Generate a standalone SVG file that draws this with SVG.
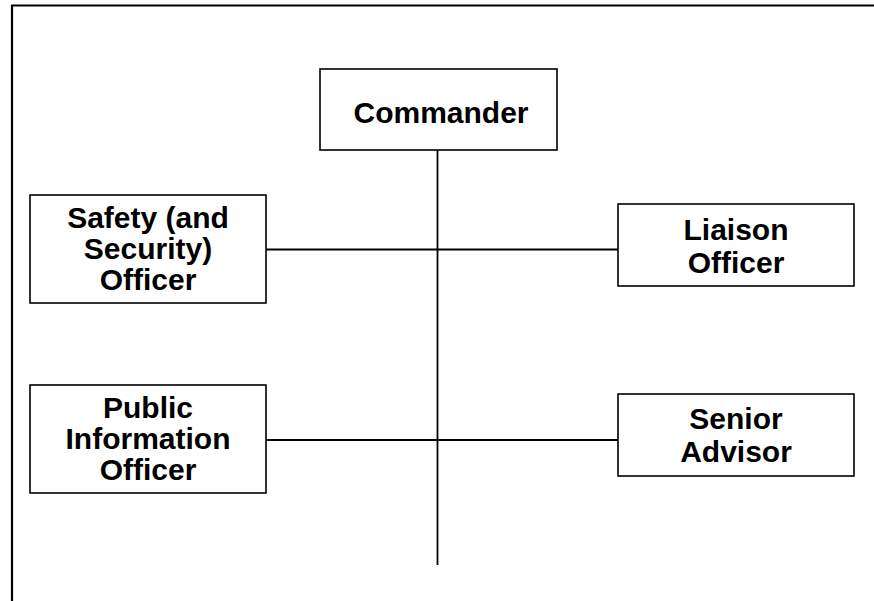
<svg xmlns="http://www.w3.org/2000/svg" width="874" height="601" viewBox="0 0 874 601">
<style>
.box{fill:#fff;stroke:#000;stroke-width:1.6}
.lbl{font-family:"Liberation Sans",Arial,sans-serif;font-weight:bold;font-size:30px;fill:#000;text-anchor:middle}
.con{stroke:#000;stroke-width:1.8;fill:none}
.frame{stroke:#000;stroke-width:2.2;fill:none}
</style>
<rect width="874" height="601" fill="#fff"/>
<path class="frame" d="M12,601 V5.5 H874"/>
<g id="connectors">
<line class="con" x1="437.5" y1="150" x2="437.5" y2="565"/>
<line class="con" x1="266" y1="249.5" x2="618" y2="249.5"/>
<line class="con" x1="266" y1="440" x2="618" y2="440"/>
</g>
<g id="commander">
<rect class="box" x="320" y="69" width="237" height="81"/>
<text class="lbl" x="441" y="123">Commander</text>
</g>
<g id="safety">
<rect class="box" x="30" y="195" width="236" height="108"/>
<text class="lbl" x="148" y="228">Safety (and</text>
<text class="lbl" x="148" y="259">Security)</text>
<text class="lbl" x="148" y="290">Officer</text>
</g>
<g id="liaison">
<rect class="box" x="618" y="204" width="236" height="82"/>
<text class="lbl" x="736" y="240">Liaison</text>
<text class="lbl" x="736" y="273">Officer</text>
</g>
<g id="public">
<rect class="box" x="30" y="385" width="236" height="108"/>
<text class="lbl" x="148" y="418">Public</text>
<text class="lbl" x="148" y="449">Information</text>
<text class="lbl" x="148" y="480">Officer</text>
</g>
<g id="senior">
<rect class="box" x="618" y="394" width="236" height="82"/>
<text class="lbl" x="736" y="429">Senior</text>
<text class="lbl" x="736" y="462">Advisor</text>
</g>
</svg>
